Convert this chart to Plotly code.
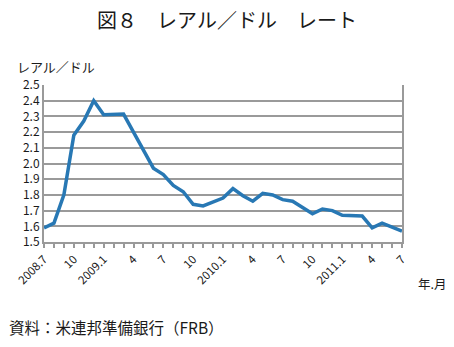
import plotly.graph_objects as go

months = list(range(37))
rate = [1.59, 1.62, 1.80, 2.18, 2.27, 2.40, 2.31, 2.315, 2.315, 2.20,
        2.08, 1.97, 1.93, 1.86, 1.82, 1.74, 1.73, 1.755, 1.78, 1.84,
        1.795, 1.76, 1.81, 1.80, 1.77, 1.76, 1.72, 1.68, 1.71, 1.70,
        1.67, 1.67, 1.665, 1.59, 1.62, 1.595, 1.57]
tick_pos = [0, 3, 6, 9, 12, 15, 18, 21, 24, 27, 30, 33, 36]
tick_text = ["2008.7", "10", "2009.1", "4", "7", "10", "2010.1", "4", "7", "10", "2011.1", "4", "7"]
y_ticks = [1.5, 1.6, 1.7, 1.8, 1.9, 2.0, 2.1, 2.2, 2.3, 2.4, 2.5]

FONT = "Noto Sans CJK JP"
GRAY = "#9a9a9a"

fig = go.Figure()
fig.add_trace(go.Scatter(x=months, y=rate, mode="lines",
                         line=dict(color="#2878b4", width=3.5),
                         hoverinfo="skip"))

fig.update_layout(
    width=454, height=347,
    margin=dict(l=44, r=52, t=85, b=105),
    paper_bgcolor="white", plot_bgcolor="white",
    showlegend=False,
    font=dict(family=FONT, color="#1a1a1a", size=11),
    title=dict(text="図８　レアル／ドル　レート", x=0.5, xanchor="center",
               y=1 - 21 / 347, yanchor="middle",
               font=dict(size=20, family=FONT, color="#1a1a1a")),
)
fig.update_xaxes(
    range=[0, 36], tickvals=tick_pos, ticktext=tick_text, tickangle=-45,
    showgrid=False, showline=True, linecolor=GRAY, linewidth=2,
    ticks="outside", ticklen=4, tickcolor=GRAY, tickwidth=1.5,
    minor=dict(dtick=1, tick0=0, ticks="outside", ticklen=4, tickcolor=GRAY, tickwidth=1.5),
    tickfont=dict(size=11.5, family=FONT), zeroline=False,
)
fig.update_yaxes(
    range=[1.5, 2.5], tickvals=y_ticks, tickformat=".1f",
    showgrid=True, gridcolor=GRAY, gridwidth=1.5,
    showline=True, linecolor=GRAY, linewidth=2, mirror=True,
    ticks="", tickfont=dict(size=12, family=FONT), zeroline=False,
)
fig.add_annotation(text="レアル／ドル", xref="paper", yref="paper",
                   x=-44 / 358 + 15 / 358, y=1 + 19 / 157, xanchor="left", yanchor="middle",
                   showarrow=False, font=dict(size=13, family=FONT))
fig.add_annotation(text="年.月", xref="paper", yref="paper",
                   x=1 + 14 / 358, y=-41 / 157, xanchor="left", yanchor="middle",
                   showarrow=False, font=dict(size=12.5, family=FONT))
fig.add_annotation(text="資料：米連邦準備銀行（FRB）", xref="paper", yref="paper",
                   x=-44 / 358 + 7 / 358, y=-85 / 157, xanchor="left", yanchor="middle",
                   showarrow=False, font=dict(size=15.5, family=FONT))

fig.write_html("out.html")
